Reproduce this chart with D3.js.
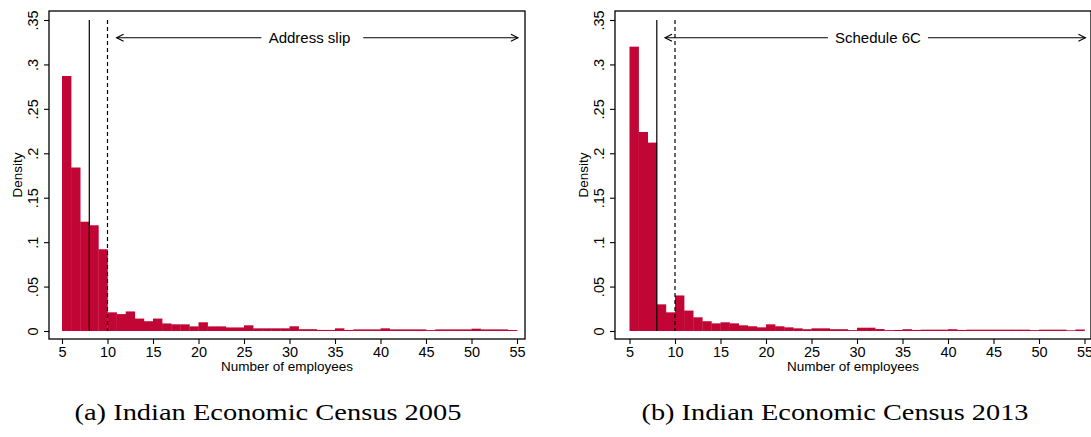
<!DOCTYPE html>
<html>
<head>
<meta charset="utf-8">
<script src="https://cdn.jsdelivr.net/npm/d3@7"></script>
<style>
  html, body { margin: 0; padding: 0; background: #fff; }
  svg { display: block; }
  .tick text { font-family: "Liberation Sans", Arial, sans-serif; font-size: 14.5px; fill: #000; }
  .tick line { stroke: #000; stroke-width: 1.1; }
  .axis-title { font-family: "Liberation Sans", Arial, sans-serif; font-size: 13.5px; fill: #000; }
  .note { font-family: "Liberation Sans", Arial, sans-serif; font-size: 15px; fill: #000; }
  .caption { font-family: "Liberation Serif", "Times New Roman", serif; font-size: 24px; fill: #000; }
</style>
</head>
<body>
<svg id="chart" width="1091" height="437"></svg>
<script>
// bins of width 1, left edges
const binStarts = [5, 6, 7, 8, 9, 10, 11, 12, 13, 14, 15, 16, 17, 18, 19, 20, 21, 22, 23, 24,
  25, 26, 27, 28, 29, 30, 31, 32, 33, 34, 35, 36, 37, 38, 39, 40, 41, 42, 43, 44,
  45, 46, 47, 48, 49, 50, 51, 52, 53, 54];

const density2005 = [0.287, 0.184, 0.123, 0.119, 0.092, 0.021, 0.019, 0.022, 0.014, 0.011,
  0.014, 0.0085, 0.0075, 0.0075, 0.0052, 0.0098, 0.0052, 0.0052, 0.004, 0.004,
  0.0064, 0.003, 0.003, 0.003, 0.003, 0.0053, 0.002, 0.002, 0.0012, 0.0012,
  0.003, 0.0012, 0.0018, 0.0018, 0.0018, 0.003, 0.0018, 0.0018, 0.0018, 0.0018,
  0.001, 0.0018, 0.0018, 0.0018, 0.0018, 0.0026, 0.0018, 0.0018, 0.0018, 0.0011];

const density2013 = [0.320, 0.224, 0.212, 0.030, 0.021, 0.040, 0.023, 0.0154, 0.011, 0.0086,
  0.0098, 0.0086, 0.0064, 0.0053, 0.0041, 0.0075, 0.0053, 0.0041, 0.003, 0.002,
  0.003, 0.003, 0.002, 0.002, 0.001, 0.0037, 0.0037, 0.0022, 0.001, 0.0012,
  0.002, 0.0012, 0.0015, 0.0015, 0.0015, 0.002, 0.0012, 0.0015, 0.0015, 0.0015,
  0.0015, 0.0015, 0.0015, 0.0015, 0.001, 0.0015, 0.0015, 0.0015, 0.0008, 0.0017];

const xTicks = [5, 10, 15, 20, 25, 30, 35, 40, 45, 50, 55];
const yTicks = [0, 0.05, 0.1, 0.15, 0.2, 0.25, 0.3, 0.35];
const yTickLabels = ['0', '.05', '.1', '.15', '.2', '.25', '.3', '.35'];

const cutoffSolid = 8;
const cutoffDashed = 10;
const arrowY = 0.33;

const panels = [
  {
    values: density2005,
    frame: { left: 49, right: 525, top: 11, bottom: 339 },
    xRange: [62, 517],
    note: 'Address slip',
    noteX: 32.2,
    arrowLeft: [11, 26.9],
    arrowRight: [38.1, 55.1],
    caption: '(a) Indian Economic Census 2005',
    captionX: 268,
  },
  {
    values: density2013,
    frame: { left: 615, right: 1091, top: 11, bottom: 339 },
    xRange: [629.5, 1084.5],
    note: 'Schedule 6C',
    noteX: 32.3,
    arrowLeft: [8.9, 26.8],
    arrowRight: [37.8, 55.1],
    caption: '(b) Indian Economic Census 2013',
    captionX: 835,
  },
];

const barColor = '#c10534';
const svg = d3.select('#chart');

function drawPanel(p) {
  const g = svg.append('g');
  const f = p.frame;
  const x = d3.scaleLinear().domain([5, 55]).range(p.xRange);
  const y = d3.scaleLinear().domain([0, 0.35]).range([331, 20]);

  // bars
  g.append('g')
    .selectAll('rect')
    .data(binStarts.map((b, i) => ({ b, v: p.values[i] })))
    .join('rect')
    .attr('x', (d) => x(d.b))
    .attr('width', (d) => x(d.b + 1) - x(d.b) + 0.3)
    .attr('y', (d) => y(d.v))
    .attr('height', (d) => y(0) - y(d.v))
    .attr('fill', barColor);

  // cutoff lines
  g.append('line')
    .attr('x1', x(cutoffSolid)).attr('x2', x(cutoffSolid))
    .attr('y1', y(0.35)).attr('y2', y(0))
    .attr('stroke', '#000').attr('stroke-width', 1.2);
  g.append('line')
    .attr('x1', x(cutoffDashed)).attr('x2', x(cutoffDashed))
    .attr('y1', y(0.35)).attr('y2', y(0))
    .attr('stroke', '#000').attr('stroke-width', 1.2)
    .attr('stroke-dasharray', '4,3');

  // annotation arrows
  const ay = y(arrowY);
  const segs = [p.arrowLeft, p.arrowRight];
  segs.forEach((s) => {
    g.append('line')
      .attr('x1', x(s[0])).attr('x2', x(s[1]))
      .attr('y1', ay).attr('y2', ay)
      .attr('stroke', '#000').attr('stroke-width', 1.2);
  });
  const tipL = x(p.arrowLeft[0]);
  const tipR = x(p.arrowRight[1]);
  g.append('path')
    .attr('d', `M${tipL + 7},${ay - 3.5}L${tipL},${ay}L${tipL + 7},${ay + 3.5}`)
    .attr('fill', 'none').attr('stroke', '#000').attr('stroke-width', 1.1);
  g.append('path')
    .attr('d', `M${tipR - 7},${ay - 3.5}L${tipR},${ay}L${tipR - 7},${ay + 3.5}`)
    .attr('fill', 'none').attr('stroke', '#000').attr('stroke-width', 1.1);
  g.append('text')
    .attr('class', 'note')
    .attr('x', x(p.noteX))
    .attr('y', ay + 5.3)
    .attr('text-anchor', 'middle')
    .text(p.note);

  // frame
  g.append('rect')
    .attr('x', f.left).attr('y', f.top)
    .attr('width', f.right - f.left).attr('height', f.bottom - f.top)
    .attr('fill', 'none').attr('stroke', '#000').attr('stroke-width', 1.3);

  // x axis
  const xAxis = g.append('g')
    .attr('transform', `translate(0,${f.bottom})`)
    .call(d3.axisBottom(x).tickValues(xTicks).tickSize(5).tickPadding(3));
  xAxis.select('.domain').remove();

  // y axis
  const yAxis = g.append('g')
    .attr('transform', `translate(${f.left},0)`)
    .call(d3.axisLeft(y).tickValues(yTicks).tickSize(5)
      .tickFormat((d, i) => yTickLabels[i]));
  yAxis.select('.domain').remove();
  yAxis.selectAll('.tick text')
    .attr('x', null).attr('dy', null)
    .attr('text-anchor', 'middle')
    .attr('transform', 'translate(-11,0) rotate(-90)');

  // axis titles
  g.append('text')
    .attr('class', 'axis-title')
    .attr('x', (f.left + f.right) / 2)
    .attr('y', 371)
    .attr('text-anchor', 'middle')
    .text('Number of employees');
  g.append('text')
    .attr('class', 'axis-title')
    .attr('transform', `translate(${f.left - 27},${(f.top + f.bottom) / 2}) rotate(-90)`)
    .attr('text-anchor', 'middle')
    .text('Density');

  // caption
  svg.append('text')
    .attr('class', 'caption')
    .attr('x', p.captionX)
    .attr('y', 420)
    .attr('text-anchor', 'middle')
    .attr('textLength', 387)
    .attr('lengthAdjust', 'spacingAndGlyphs')
    .text(p.caption);
}

panels.forEach(drawPanel);
</script>
</body>
</html>
